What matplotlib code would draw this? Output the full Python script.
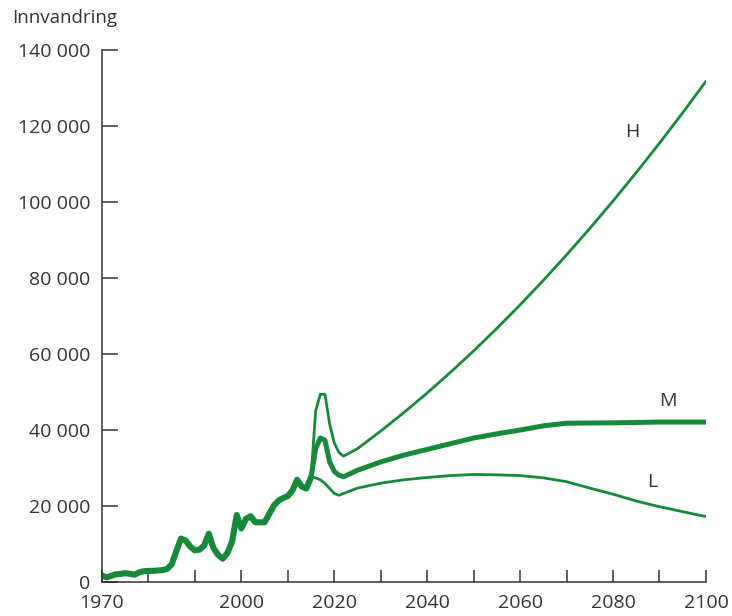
import matplotlib
matplotlib.use('Agg')
import matplotlib.pyplot as plt

plt.rcParams['font.family'] = ['Open Sans', 'DejaVu Sans']

# historisk innvandring
hist_years = list(range(1970, 2016))
hist_vals = [1600, 1100, 1500, 1900, 2000, 2200, 2000, 1800, 2400, 2700,
             2800, 2800, 2900, 3000, 3300, 4500, 8000, 11300, 10800, 9200,
             8200, 8400, 9500, 12600, 8800, 7000, 6000, 7500, 10500, 17500,
             14000, 16500, 17200, 15600, 15600, 15600, 17800, 20000, 21300, 22000,
             22500, 24000, 26800, 25000, 24500, 27500]

# framskrivinger
proj_years = [2015, 2016, 2017, 2018, 2019, 2020, 2021, 2022, 2025, 2030,
              2035, 2040, 2045, 2050, 2055, 2060, 2065, 2070, 2075, 2080,
              2085, 2090, 2095, 2100]
high_vals = [27500, 45000, 49300, 49300, 41500, 36500, 34000, 33000, 35000, 39630,
             44520, 49670, 55080, 60750, 66680, 72870, 79320, 86030, 93000, 100230,
             107720, 115470, 123480, 131750]
mid_vals = [27500, 35000, 37800, 37200, 31500, 29000, 28000, 27600, 29300, 31500,
            33300, 34800, 36300, 37800, 38900, 39900, 41000, 41700, 41750, 41800,
            41900, 42000, 42000, 42000]
low_vals = [27500, 27300, 26800, 25800, 24500, 23200, 22700, 23200, 24600, 25900,
            26800, 27400, 27900, 28200, 28100, 27900, 27300, 26300, 24600, 23000,
            21200, 19700, 18400, 17100]

xticks = list(range(1970, 2101, 10))
xtick_labels = ['1970', '', '', '2000', '', '2020', '', '2040', '', '2060', '', '2080', '', '2100']
yticks = [0, 20000, 40000, 60000, 80000, 100000, 120000, 140000]
ytick_labels = ['0', '20 000', '40 000', '60 000', '80 000', '100 000', '120 000', '140 000']

green = '#17893a'
dark = '#333333'

fig = plt.figure(figsize=(7.32, 6.16), dpi=100)
ax = fig.add_axes([0.1393, 0.056, 0.8251, 0.8628])

ax.plot(proj_years, high_vals, color=green, lw=2.0, solid_capstyle='round',
        solid_joinstyle='round')
ax.plot(proj_years, low_vals, color=green, lw=2.0, solid_capstyle='round',
        solid_joinstyle='round')
ax.plot(proj_years, mid_vals, color=green, lw=3.6, solid_capstyle='round',
        solid_joinstyle='round')
ax.plot(hist_years, hist_vals, color=green, lw=4.4, solid_capstyle='round',
        solid_joinstyle='round')

ax.text(2084.1, 118400, 'H', fontsize=14, color=dark, ha='center', va='center')
ax.text(2091.8, 47450, 'M', fontsize=14, color=dark, ha='center', va='center')
ax.text(2088.4, 26100, 'L', fontsize=14, color=dark, ha='center', va='center')

ax.set_xlim(1970, 2100)
ax.set_ylim(0, 140000)
ax.set_xticks(xticks)
ax.set_xticklabels(xtick_labels)
ax.set_yticks(yticks)
ax.set_yticklabels(ytick_labels)

for s in ['top', 'right']:
    ax.spines[s].set_visible(False)
for s in ['left', 'bottom']:
    ax.spines[s].set_color(dark)
    ax.spines[s].set_linewidth(1.1)

ax.tick_params(axis='y', direction='in', length=11.5, width=1.1, color=dark,
               labelsize=14, labelcolor=dark, pad=8.5)
ax.tick_params(axis='x', direction='in', length=8.6, width=1.1, color=dark,
               labelsize=14, labelcolor=dark, pad=9)

fig.text(0.016, 0.97, 'Innvandring', fontsize=13.5, color=dark, ha='left', va='center')

fig.savefig('out.png', dpi=100)
